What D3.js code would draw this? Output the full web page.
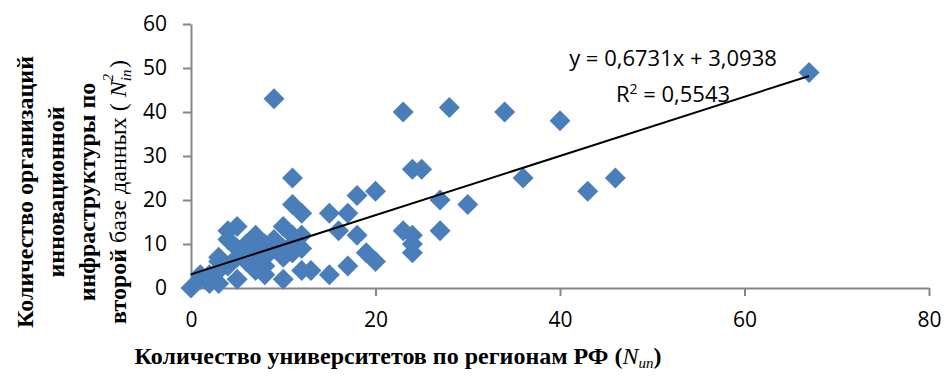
<!DOCTYPE html>
<html>
<head>
<meta charset="utf-8">
<script src="https://cdn.jsdelivr.net/npm/d3@7"></script>
<style>
  body { margin: 0; background: #fff; }
  svg { display: block; }
  .serif { font-family: "Liberation Serif", serif; }
</style>
</head>
<body>
<svg id="chart" width="946" height="376"></svg>
<script>
// universities per region (x) vs innovation infrastructure orgs (y)
const univCount = [0, 1, 1, 2, 2, 3, 3, 3, 4, 3, 2, 4, 5, 5, 5, 5, 6, 7, 7, 7,
  8, 8, 8, 8, 9, 9, 10, 10, 10, 10, 11, 11, 11, 11, 11, 12, 12, 12, 12, 13,
  15, 15, 16, 17, 17, 18, 18, 19, 20, 20, 23, 23, 24, 24, 24, 24, 25, 27, 27, 28,
  30, 34, 36, 40, 43, 46, 67, 6, 7, 9, 4, 6];
const infraCount = [0, 2, 3, 1, 3, 1, 4, 6, 5, 7, 2, 13, 14, 9, 7, 2, 6, 12, 5, 4,
  10, 7, 3, 5, 11, 43, 14, 7, 2, 9, 19, 25, 10, 12, 8, 17, 12, 4, 9, 4,
  17, 3, 13, 17, 5, 21, 12, 8, 6, 22, 40, 13, 27, 12, 10, 8, 27, 20, 13, 41,
  19, 40, 25, 38, 22, 25, 49, 10, 8, 9, 11, 8];

const xTicks = [0, 20, 40, 60, 80];
const yTicks = [0, 10, 20, 30, 40, 50, 60];

const slope = 0.6731, intercept = 3.0938, rSquared = 0.5543;

const svg = d3.select("#chart");
const plot = { left: 191, right: 929, top: 24, bottom: 288 };
const gray = "#868686";
const blue = "#4A7EBB";

const x = d3.scaleLinear().domain([0, 80]).range([plot.left, plot.right]);
const y = d3.scaleLinear().domain([0, 60]).range([plot.bottom, plot.top]);

// y axis
const yAxis = svg.append("g")
  .attr("transform", "translate(" + plot.left + ",0)")
  .call(d3.axisLeft(y).tickValues(yTicks).tickSize(8).tickSizeOuter(0).tickPadding(16));
// x axis
const xAxis = svg.append("g")
  .attr("transform", "translate(0," + plot.bottom + ")")
  .call(d3.axisBottom(x).tickValues(xTicks).tickSize(8).tickSizeOuter(0).tickPadding(16));

[yAxis, xAxis].forEach(g => {
  g.select(".domain").attr("stroke", gray).attr("stroke-width", 2);
  g.selectAll(".tick line").attr("stroke", gray).attr("stroke-width", 2);
  g.selectAll(".tick text")
    .attr("fill", "#000")
    .style("font-family", "'Open Sans', sans-serif")
    .style("font-size", "21px");
});

// markers
const pts = univCount.map((d, i) => [d, infraCount[i]]);
svg.append("g")
  .selectAll("path")
  .data(pts)
  .enter()
  .append("path")
  .attr("d", d3.symbol(d3.symbolSquare, 220))
  .attr("transform", d => "translate(" + x(d[0]) + "," + y(d[1]) + ")rotate(45)")
  .attr("fill", blue);

// trend line
const xMax = d3.max(univCount);
svg.append("line")
  .attr("x1", x(0)).attr("y1", y(intercept))
  .attr("x2", x(xMax)).attr("y2", y(slope * xMax + intercept))
  .attr("stroke", "#000")
  .attr("stroke-width", 2);

// equation
const eq = svg.append("g")
  .style("font-family", "'Open Sans', sans-serif")
  .style("font-size", "22px")
  .attr("text-anchor", "middle");
eq.append("text").attr("x", 673).attr("y", 66)
  .text("y = " + String(slope).replace(".", ",") + "x + " + String(intercept).replace(".", ","));
const r2 = eq.append("text").attr("x", 673).attr("y", 102);
r2.append("tspan").text("R");
r2.append("tspan").attr("dy", -8).style("font-size", "14px").text("2");
r2.append("tspan").attr("dy", 8).text(" = " + String(rSquared).replace(".", ","));

// x title
const xt = svg.append("text")
  .attr("class", "serif")
  .attr("x", 398).attr("y", 364)
  .attr("text-anchor", "middle")
  .style("font-size", "24px")
  .style("font-weight", "bold");
xt.append("tspan").text("Количество университетов по регионам РФ (");
xt.append("tspan").style("font-style", "italic").style("font-weight", "normal").text("N");
xt.append("tspan").style("font-style", "italic").style("font-weight", "normal")
  .style("font-size", "15px").attr("dy", 4).text("un");
xt.append("tspan").attr("dy", -4).text(")");

// y title
const yt = svg.append("g")
  .attr("transform", "translate(0,192)rotate(-90)");
const yLines = ["Количество организаций", "инновационной", "инфраструктуры по"];
yLines.forEach((t, i) => {
  yt.append("text")
    .attr("class", "serif")
    .attr("text-anchor", "middle")
    .style("font-size", "24px")
    .style("font-weight", "bold")
    .attr("x", 0).attr("y", 33 + i * 31).text(t);
});
const l4 = yt.append("text")
  .attr("class", "serif")
  .attr("text-anchor", "middle")
  .style("font-size", "24px")
  .attr("x", 0).attr("y", 126);
l4.append("tspan").style("font-weight", "bold").text("второй ");
l4.append("tspan").text("базе данных  ( ");
l4.append("tspan").style("font-style", "italic").text("N");
l4.append("tspan").style("font-style", "italic")
  .style("font-size", "15px").attr("dy", 5).text("in");
l4.append("tspan").style("font-style", "italic")
  .style("font-size", "15px").attr("dx", -12).attr("dy", -18).text("2");
l4.append("tspan").attr("dy", 13).text(" )");
</script>
</body>
</html>
